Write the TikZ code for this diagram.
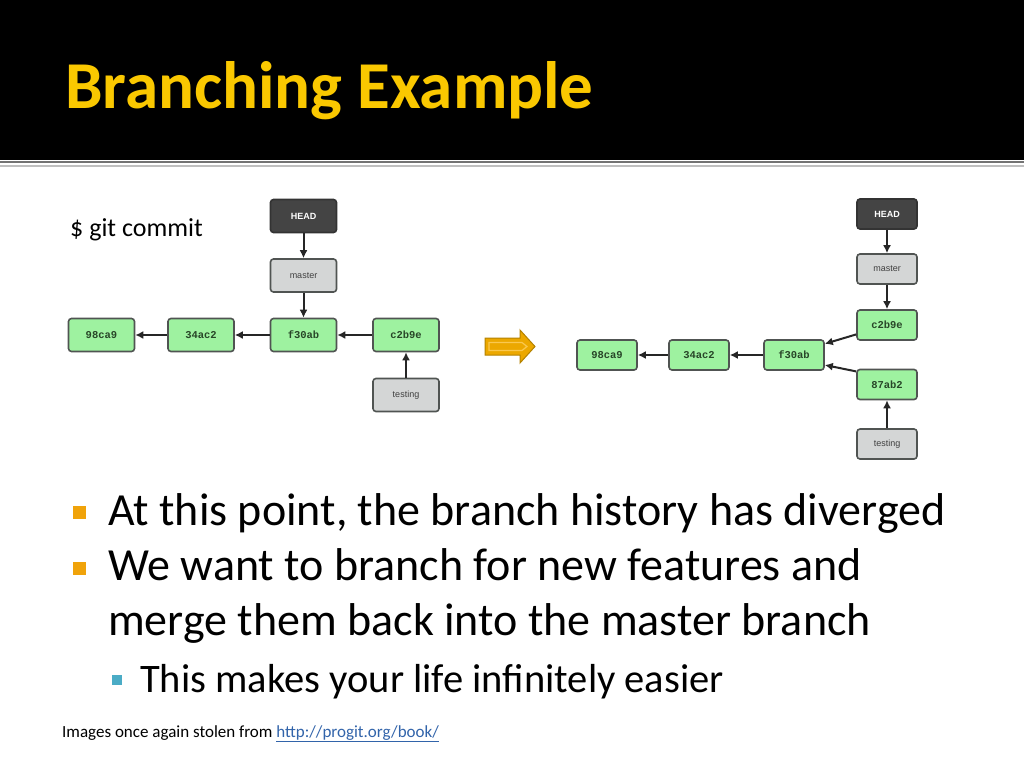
\documentclass[tikz,border=0pt]{standalone}
\usepackage{fontspec}
\setmainfont{Carlito}
\newfontfamily\hashfont{Liberation Mono}
\newfontfamily\labelfont{Liberation Sans}
\usetikzlibrary{arrows.meta}
\definecolor{titleyellow}{RGB}{250,200,0}
\definecolor{commitgreen}{RGB}{158,242,160}
\definecolor{hashgreen}{RGB}{40,70,40}
\definecolor{refgray}{RGB}{212,214,214}
\definecolor{headgray}{RGB}{68,68,68}
\definecolor{boxborder}{RGB}{80,84,82}
\definecolor{bulletorange}{RGB}{240,163,10}
\definecolor{bulletblue}{RGB}{75,172,198}
\definecolor{arroworange}{RGB}{236,168,0}
\definecolor{arrowedge}{RGB}{180,130,0}
\definecolor{arrowlight}{RGB}{250,200,80}
\definecolor{linkblue}{RGB}{50,100,170}
\tikzset{
  box/.style={draw=boxborder, line width=1.6pt, rounded corners=3pt,
    minimum width=66pt, minimum height=33pt, inner sep=0pt},
  commit/.style={box, fill=commitgreen, text=hashgreen,
    font=\hashfont\bfseries\fontsize{10.5}{10.5}\selectfont},
  branchref/.style={box, fill=refgray, text=black!75,
    font=\labelfont\fontsize{9}{9}\selectfont},
  headref/.style={box, fill=headgray, draw=black!80, text=white,
    font=\labelfont\bfseries\fontsize{9}{9}\selectfont},
  link/.style={-{Latex[length=8pt,width=8pt]}, line width=2pt, draw=black!85},
  bodytext/.style={anchor=base west, inner sep=0pt,
    font=\fontsize{46}{55}\selectfont},
}
\begin{document}
\begin{tikzpicture}[x=1pt,y=-1pt]
\useasboundingbox (0,0) rectangle (1024,768);
\fill[white] (0,0) rectangle (1024,768);
% title band
\fill[black] (0,0) rectangle (1024,160);
\draw[black!55, line width=2pt] (0,161.5) -- (1024,161.5);
\draw[black!25, line width=2pt] (0,165.5) -- (1024,165.5);
\node[anchor=base west, inner sep=0pt, text=titleyellow,
  font=\bfseries\fontsize{67}{75}\selectfont] (title) at (65,108) {Branching Example};
\node[anchor=base west, inner sep=0pt, font=\fontsize{26}{30}\selectfont]
  (cmd) at (70,236) {\$ git commit};

% before the commit
\foreach \n/\x/\t in {98ca9L/101.5/98ca9, 34ac2L/201/34ac2,
  f30abL/303.5/f30ab, c2b9eL/406/c2b9e}
  \node[commit] (\n) at (\x,335) {\t};
\node[headref] (headL) at (303.5,216) {HEAD};
\node[branchref] (masterL) at (303.5,275.5) {master};
\node[branchref] (testingL) at (406,395) {testing};
\foreach \a/\b in {headL/masterL, masterL/f30abL, c2b9eL/f30abL,
  f30abL/34ac2L, 34ac2L/98ca9L, testingL/c2b9eL}
  \draw[link] (\a) -- (\b);

% block arrow
\draw[fill=arroworange, draw=arrowedge, line width=1pt]
  (485,338) -- (520,338) -- (520,330) -- (535,346.5) -- (520,363)
  -- (520,355) -- (485,355) -- cycle;
\draw[arrowlight, line width=1.2pt] (489,342.5) -- (522,342.5) -- (527,346.5)
  -- (522,350.5) -- (489,350.5) -- cycle;

% after the commit
\begin{scope}[box/.append style={minimum width=60pt, minimum height=30pt}]
\foreach \n/\x/\y/\t in {98ca9R/607/355/98ca9, 34ac2R/699/355/34ac2,
  f30abR/794/355/f30ab, c2b9eR/887/325/c2b9e, 87ab2R/887/384.5/87ab2}
  \node[commit] (\n) at (\x,\y) {\t};
\node[headref] (headR) at (887,214) {HEAD};
\node[branchref] (masterR) at (887,269) {master};
\node[branchref] (testingR) at (887,444) {testing};
\end{scope}
\foreach \a/\b in {headR/masterR, masterR/c2b9eR, f30abR/34ac2R,
  34ac2R/98ca9R, testingR/87ab2R}
  \draw[link] (\a) -- (\b);
\draw[link] (c2b9eR.197) -- (f30abR.20);
\draw[link] (87ab2R.157) -- (f30abR.342);

% bullets
\fill[bulletorange] (73,506) rectangle (86,519);
\fill[bulletorange] (73,562) rectangle (86,575);
\fill[bulletblue] (112,675) rectangle (122,685);
\node[bodytext] (pointA) at (108,525) {At this point, the branch history has diverged};
\node[bodytext] (pointB) at (108,580) {We want to branch for new features and};
\node[bodytext] (pointC) at (108,635) {merge them back into the master branch};
\node[bodytext, font=\fontsize{40.5}{48}\selectfont] (pointD) at (140,692)
  {This makes your life infinitely easier};
\node[anchor=base west, inner sep=0pt, font=\fontsize{17}{20}\selectfont]
  (footer) at (62,737) {Images once again stolen from
  \textcolor{linkblue}{\underline{http://progit.org/book/}}};
\end{tikzpicture}
\end{document}
